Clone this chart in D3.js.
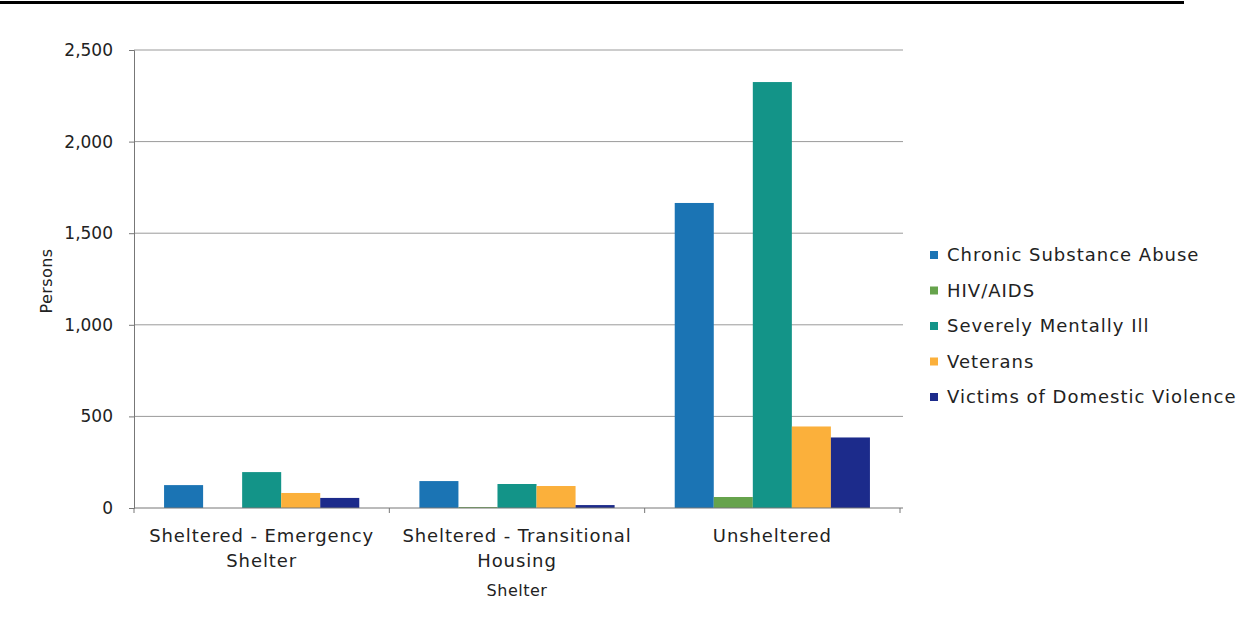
<!DOCTYPE html>
<html><head><meta charset="utf-8">
<script src="https://cdn.jsdelivr.net/npm/d3@7"></script>
<style>
body{margin:0;background:#fff;}
svg{display:block;}
text{font-family:"DejaVu Sans",sans-serif;fill:#222;}
</style></head>
<body><svg id="c" width="1259" height="624"></svg>
<script>
const categories = [["Sheltered - Emergency","Shelter"],["Sheltered - Transitional","Housing"],["Unsheltered"]];
const seriesNames = ["Chronic Substance Abuse","HIV/AIDS","Severely Mentally Ill","Veterans","Victims of Domestic Violence"];
const chronic = [125, 147, 1665];
const hiv = [0, 5, 60];
const smi = [196, 131, 2325];
const veterans = [82, 120, 445];
const victims = [55, 16, 385];
const yTicks = [0, 500, 1000, 1500, 2000, 2500];
const colors = ["#1b74b4","#66a34c","#139488","#fbb03b","#1c2b8b"];
const seriesValues = [chronic, hiv, smi, veterans, victims];

const svg = d3.select("#c");
svg.append("rect").attr("x",0).attr("y",1).attr("width",1184).attr("height",3).attr("fill","#000");

const x0 = d3.scaleBand().domain(categories.map((d,i)=>i)).range([134, 900]).paddingInner(0).paddingOuter(0);
const x1 = d3.scaleBand().domain(seriesNames).range([0, x0.bandwidth()]).paddingInner(0).paddingOuter(0.77);
const y = d3.scaleLinear().domain([0,2500]).range([508, 50]);

svg.append("g").selectAll("line").data(yTicks.filter(d=>d>0)).join("line")
  .attr("x1",134).attr("x2",903).attr("y1",d=>y(d)).attr("y2",d=>y(d))
  .attr("stroke","#9a9a9a").attr("stroke-width",1);

seriesNames.forEach((s,si)=>{
  svg.append("g").selectAll("rect").data(seriesValues[si]).join("rect")
    .attr("x",(d,i)=>x0(i)+x1(s))
    .attr("width",x1.bandwidth())
    .attr("y",d=>y(d))
    .attr("height",d=>y(0)-y(d))
    .attr("fill",colors[si]);
});

const yAxis = d3.axisLeft(y).tickValues(yTicks).tickSize(5).tickFormat(d3.format(","));
const gy = svg.append("g").attr("transform","translate(134,0)").call(yAxis);
gy.select(".domain").attr("stroke","#777");
gy.selectAll(".tick line").attr("stroke","#777");
gy.selectAll(".tick text").attr("x",-21).style("font-size","17px").style("font-family","DejaVu Sans").attr("fill","#222");

const gx = svg.append("g").attr("transform","translate(0,508)");
gx.append("line").attr("x1",134).attr("x2",903).attr("y1",0).attr("y2",0).attr("stroke","#777");
const bounds = [0,1,2].map(i=>x0(i)).concat([x0(2)+x0.bandwidth()]);
gx.selectAll("line.t").data(bounds).join("line").attr("class","t")
  .attr("x1",d=>d).attr("x2",d=>d).attr("y1",0).attr("y2",5).attr("stroke","#777");
categories.forEach((lines,i)=>{
  const cx = x0(i)+x0.bandwidth()/2;
  const t = gx.append("text").attr("text-anchor","middle").attr("x",cx).attr("y",34)
    .style("font-size","18px").style("letter-spacing","0.9px");
  lines.forEach((ln,j)=>t.append("tspan").attr("x",cx).attr("dy",j===0?0:25).text(ln));
});

svg.append("text").attr("x",517).attr("y",596).attr("text-anchor","middle").style("font-size","16px").style("letter-spacing","0.5px").text("Shelter");
svg.append("text").attr("transform","translate(52,281) rotate(-90)").attr("text-anchor","middle").style("font-size","16px").style("letter-spacing","0.4px").text("Persons");

const lg = svg.append("g");
seriesNames.forEach((s,i)=>{
  const yy = 255 + i*35.5;
  lg.append("rect").attr("x",930).attr("y",yy-4).attr("width",8).attr("height",8).attr("fill",colors[i]);
  lg.append("text").attr("x",947).attr("y",yy+6).style("font-size","18px").style("letter-spacing","1px").text(s);
});
</script></body></html>
